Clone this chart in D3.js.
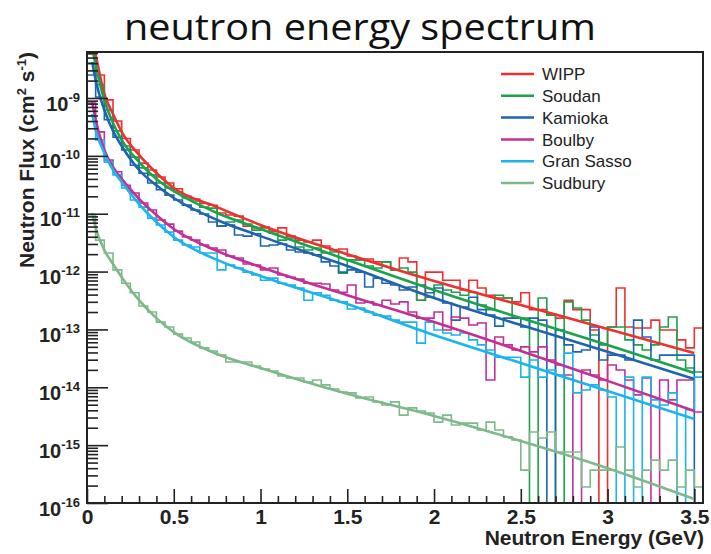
<!DOCTYPE html>
<html>
<head>
<meta charset="utf-8">
<script src="https://cdn.jsdelivr.net/npm/d3@7"></script>
<style>
  body { margin: 0; background: #fff; }
  svg { display: block; }
</style>
</head>
<body>
<script>
// sites, in legend order
const sites = ["WIPP", "Soudan", "Kamioka", "Boulby", "Gran Sasso", "Sudbury"];
const colors = ["#ef3030", "#1aa34a", "#1f64b0", "#c42f96", "#1db3ec", "#7db98a"];

// histogram: 71 bins of 0.05 GeV from 0 to 3.55 GeV (flux, cm^-2 s^-1), 0 = empty bin
const binWidth = 0.05;
const wippHist = [5.8e-9, 2.5e-9, 9.3e-10, 4.0e-10, 2.0e-10, 1.26e-10, 7.5e-11, 5.7e-11, 4.3e-11, 3.4e-11,
  2.7e-11, 2.0e-11, 1.8e-11, 1.5e-11, 1.4e-11, 1.03e-11, 9.5e-12, 9.1e-12, 6.1e-12, 5.7e-12,
  5.9e-12, 5.0e-12, 5.7e-12, 4.1e-12, 3.5e-12, 3.25e-12, 3.5e-12, 2.77e-12, 2.36e-12, 2.46e-12,
  1.86e-12, 1.59e-12, 1.65e-12, 1.47e-12, 1.47e-12, 1.07e-12, 1.72e-12, 1.47e-12, 3.2e-13, 9.8e-13,
  9.8e-13, 7.1e-13, 7.1e-13, 4.8e-13, 7.1e-13, 5.2e-13, 3.9e-13, 3.5e-13, 3.5e-13, 3.0e-13,
  4.3e-13, 2.2e-13, 2.2e-13, 1.85e-13, 1.57e-13, 3.2e-13, 2.2e-13, 2.2e-13, 9.8e-14, 0,
  1.1e-13, 5.2e-13, 1.1e-13, 1.06e-13, 1.06e-13, 1.45e-13, 9.8e-14, 9.8e-14, 6.6e-14, 4.8e-14,
  1.06e-13];
const soudanHist = [4.0e-9, 1.7e-9, 6.2e-10, 2.7e-10, 1.48e-10, 9.5e-11, 6.2e-11, 4.7e-11, 3.4e-11, 2.8e-11,
  2.37e-11, 1.87e-11, 1.66e-11, 1.3e-11, 1.25e-11, 6.1e-12, 7.2e-12, 7.8e-12, 6.6e-12, 5.2e-12,
  5.7e-12, 4.6e-12, 3.5e-12, 3.8e-12, 2.66e-12, 2.36e-12, 2.56e-12, 2.1e-12, 2.18e-12, 9.4e-13,
  1.59e-12, 1.59e-12, 1.25e-12, 1.15e-12, 1.47e-12, 1.07e-12, 1.15e-12, 9.8e-13, 3.2e-13, 3.6e-13,
  5.85e-13, 4.8e-13, 4.4e-13, 3.9e-13, 4.4e-13, 2.64e-13, 2.2e-13, 3.9e-13, 3.5e-13, 1.57e-13,
  1.57e-13, 0, 3.5e-13, 1.77e-13, 0, 3.0e-13, 2.34e-13, 1.45e-13, 8.0e-14, 5.4e-14,
  1.1e-13, 1.1e-13, 6.6e-14, 5.4e-14, 4.4e-14, 5.4e-14, 1.1e-13, 1.64e-13, 2.96e-14, 2.15e-14,
  1.84e-14];
const kamiokaHist = [2.5e-9, 1.04e-9, 4.2e-10, 2.1e-10, 1.26e-10, 6.9e-11, 5.0e-11, 3.4e-11, 2.6e-11, 2.1e-11,
  1.73e-11, 1.41e-11, 1.16e-11, 9.9e-12, 7.2e-12, 6.1e-12, 6.4e-12, 4.3e-12, 4.1e-12, 4.5e-12,
  2.77e-12, 2.88e-12, 3.0e-12, 2.36e-12, 2.18e-12, 2.1e-12, 1.94e-12, 1.47e-12, 1.25e-12, 9.8e-13,
  1.07e-12, 9.8e-13, 5.4e-13, 7.7e-13, 6.3e-13, 5.85e-13, 4.8e-13, 5.4e-13, 5.85e-13, 4.3e-13,
  5.2e-13, 2.86e-13, 1.45e-13, 2.44e-13, 3.6e-13, 2.2e-13, 1.77e-13, 1.14e-13, 1.57e-13, 1.57e-13,
  1.1e-13, 1.57e-13, 1.45e-13, 0, 9.8e-14, 5.4e-14, 4.1e-14, 4.4e-14, 1.1e-13, 2.96e-14,
  3.6e-14, 3.6e-14, 2.96e-14, 1.45e-13, 7.4e-14, 2.96e-14, 3.6e-14, 3.6e-14, 3.6e-14, 3.6e-14,
  0];
const boulbyHist = [8.2e-10, 2.6e-10, 8.5e-11, 5.3e-11, 3.1e-11, 2.28e-11, 1.53e-11, 1.16e-11, 7.8e-12, 6.6e-12,
  5.0e-12, 3.96e-12, 3.5e-12, 2.88e-12, 2.56e-12, 2.36e-12, 1.86e-12, 1.72e-12, 1.35e-12, 1.3e-12,
  1.07e-12, 1.15e-12, 8.7e-13, 8.0e-13, 7.4e-13, 6.3e-13, 6.3e-13, 6.1e-13, 4.8e-13, 4.4e-13,
  5.85e-13, 2.86e-13, 3.0e-13, 2.64e-13, 3.2e-13, 2.75e-13, 3.0e-13, 2.0e-13, 1.57e-13, 1.57e-13,
  2.0e-13, 9.8e-14, 1.64e-13, 1.57e-13, 1.19e-13, 1.29e-13, 1.34e-14, 7.4e-14, 5.4e-14, 4.4e-14,
  5.0e-14, 4.1e-14, 5.0e-14, 2.96e-14, 2.43e-14, 1.63e-14, 0, 1.99e-14, 1.63e-14, 1.34e-14,
  2.43e-14, 1.99e-14, 1.34e-14, 7.4e-15, 1.45e-14, 0, 1.34e-14, 6.05e-15, 1.34e-14, 1.34e-14,
  3.75e-15];
const gransassoHist = [4.9e-10, 1.88e-10, 7.8e-11, 4.7e-11, 2.78e-11, 1.73e-11, 1.3e-11, 8.4e-12, 6.4e-12, 4.8e-12,
  3.5e-12, 2.88e-12, 2.66e-12, 2.1e-12, 2.1e-12, 1.07e-12, 1.3e-12, 1.15e-12, 9.8e-13, 8.7e-13,
  7.1e-13, 7.7e-13, 6.3e-13, 5.85e-13, 5.2e-13, 3.2e-13, 4.3e-13, 3.9e-13, 3.2e-13, 3.0e-13,
  2.25e-13, 2.34e-13, 2.0e-13, 1.77e-13, 1.7e-13, 1.45e-13, 1.34e-13, 1.34e-13, 5.8e-14, 1.34e-13,
  9.8e-14, 8.7e-14, 8.0e-14, 8.7e-14, 6.6e-14, 5.4e-14, 4.4e-14, 3.3e-14, 3.3e-14, 3.3e-14,
  1.5e-14, 2.96e-14, 1.5e-14, 1.99e-14, 1.63e-14, 3.9e-14, 8.0e-15, 9.0e-15, 1.1e-14, 9.0e-15,
  6.8e-15, 0, 1.5e-14, 0, 1.5e-14, 6.05e-15, 4.95e-15, 8.0e-15, 0, 4.1e-15,
  1.5e-14];
const sudburyHist = [9.5e-12, 3.5e-12, 2.1e-12, 1.07e-12, 6.3e-13, 4.3e-13, 2.54e-13, 2.0e-13, 1.34e-13, 1.1e-13,
  8.3e-14, 7.1e-14, 6.05e-14, 4.8e-14, 4.24e-14, 3.6e-14, 2.74e-14, 2.74e-14, 2.74e-14, 2.33e-14,
  2.07e-14, 1.91e-14, 1.57e-14, 1.45e-14, 1.45e-14, 1.23e-14, 1.34e-14, 1.1e-14, 9.35e-15, 8.3e-15,
  8.0e-15, 6.55e-15, 6.8e-15, 5.6e-15, 4.95e-15, 5.6e-15, 3.3e-15, 4.4e-15, 3.9e-15, 3.6e-15,
  2.5e-15, 3.3e-15, 2.23e-15, 2.4e-15, 2.4e-15, 1.83e-15, 2.5e-15, 1.83e-15, 1.39e-15, 1.23e-15,
  3.7e-16, 1.69e-15, 1.33e-15, 1.69e-15, 7.6e-16, 7.6e-16, 7.6e-16, 1.89e-16, 3.7e-16, 3.7e-16,
  3.7e-16, 9.3e-16, 3.7e-16, 1.89e-16, 3.7e-16, 5.5e-16, 3.7e-16, 5.5e-16, 1.89e-16, 3.7e-16,
  1.89e-16];

// fitted curves, sampled at these energies (GeV)
const fitX = [0.03, 0.05, 0.1, 0.15, 0.2, 0.3, 0.4, 0.5, 0.75, 1.0, 1.5, 2.0, 2.5, 3.0, 3.5];
const wippFit = [1.0e-8, 5.5e-9, 1.17e-9, 5.3e-10, 2.6e-10, 1.04e-10, 5.05e-11, 2.78e-11, 1.3e-11, 6.4e-12, 2.0e-12, 6.9e-13, 2.64e-13, 1.02e-13, 3.9e-14];
const soudanFit = [7.3e-9, 3.7e-9, 9.2e-10, 3.7e-10, 1.88e-10, 7.8e-11, 4.0e-11, 2.47e-11, 1.03e-11, 5.45e-12, 1.59e-12, 4.8e-13, 1.57e-13, 5.4e-14, 1.77e-14];
const kamiokaFit = [4.2e-9, 2.05e-9, 6.2e-10, 2.7e-10, 1.48e-10, 5.7e-11, 3.1e-11, 1.87e-11, 7.8e-12, 4.1e-12, 1.25e-12, 3.5e-13, 1.19e-13, 4.1e-14, 1.39e-14];
const boulbyFit = [8.5e-10, 4.2e-10, 1.26e-10, 6.4e-11, 4.0e-11, 1.8e-11, 9.5e-12, 5.45e-12, 2.27e-12, 1.2e-12, 3.9e-13, 1.34e-13, 4.24e-14, 1.29e-14, 3.9e-15];
const gransassoFit = [5.3e-10, 2.8e-10, 1.12e-10, 5.7e-11, 3.53e-11, 1.47e-11, 7.2e-12, 3.96e-12, 1.59e-12, 8.4e-13, 2.75e-13, 8.0e-14, 2.63e-14, 8.6e-15, 2.84e-15];
const sudburyFit = [1.03e-11, 5.7e-12, 2.36e-12, 1.35e-12, 8.0e-13, 3.2e-13, 1.57e-13, 9.0e-14, 3.76e-14, 2.15e-14, 7.7e-15, 3.2e-15, 1.18e-15, 4.0e-16, 1.17e-16];

// axis ticks
const xTicks = [0, 0.5, 1, 1.5, 2, 2.5, 3, 3.5];
const yDecades = [1e-16, 1e-15, 1e-14, 1e-13, 1e-12, 1e-11, 1e-10, 1e-9, 1e-8];

const hists = [wippHist, soudanHist, kamiokaHist, boulbyHist, gransassoHist, sudburyHist];
const fits = [wippFit, soudanFit, kamiokaFit, boulbyFit, gransassoFit, sudburyFit];

const W = 711, H = 554;
const margin = { top: 52, right: 8, bottom: 51, left: 87 };
const width = W - margin.left - margin.right,
  height = H - margin.top - margin.bottom;
const axisFont = "'Liberation Sans', Arial, Helvetica, sans-serif";

const svg = d3.select("body").append("svg")
  .attr("width", W)
  .attr("height", H);

svg.append("text")
  .attr("x", 360)
  .attr("y", 40)
  .attr("text-anchor", "middle")
  .attr("font-family", "'Open Sans', sans-serif")
  .attr("font-size", 36)
  .attr("textLength", 472)
  .attr("lengthAdjust", "spacingAndGlyphs")
  .attr("fill", "#111")
  .text("neutron energy spectrum");

const g = svg.append("g")
  .attr("transform", "translate(" + margin.left + "," + margin.top + ")");

const x = d3.scaleLinear().domain([0, 3.55]).range([0, width]);
const y = d3.scaleLog().domain([1e-16, 6.24e-9]).range([height, 0]);

g.append("clipPath").attr("id", "plot")
  .append("rect").attr("width", width).attr("height", height);

const plot = g.append("g").attr("clip-path", "url(#plot)");

// histograms as step contours, empty bins drop to the bottom
const step = d3.line()
  .x(d => x(d[0]))
  .y(d => d[1] > 0 ? y(d[1]) : height + 2)
  .curve(d3.curveStepAfter);

hists.forEach((h, k) => {
  const pts = h.map((v, i) => [i * binWidth, v]);
  pts.push([h.length * binWidth, h[h.length - 1]]);
  plot.append("path")
    .attr("d", step(pts))
    .attr("fill", "none")
    .attr("stroke", colors[k])
    .attr("stroke-width", 1.6);
});

const fitLine = d3.line()
  .x((d, i) => x(fitX[i]))
  .y(d => y(d))
  .curve(d3.curveMonotoneX);

fits.forEach((f, k) => {
  plot.append("path")
    .attr("d", fitLine(f))
    .attr("fill", "none")
    .attr("stroke", colors[k])
    .attr("stroke-width", 2.6);
});

// axes (ROOT style, ticks inside)
const xMinor = d3.range(0, 3.55, 0.1).filter(v => Math.abs(v * 2 - Math.round(v * 2)) > 1e-6);
const yMinor = [];
yDecades.slice(0, -1).forEach(d => { for (let m = 2; m <= 9; m++) yMinor.push(d * m); });

const gx = g.append("g")
  .attr("transform", "translate(0," + height + ")")
  .attr("color", "#222");
gx.append("g").call(d3.axisBottom(x).tickValues(xMinor).tickSize(-7).tickFormat(() => ""));
gx.append("g").call(d3.axisBottom(x).tickValues(xTicks).tickSize(-14).tickPadding(6).tickFormat(d3.format("")));
gx.selectAll(".domain").remove();
gx.selectAll("line").attr("stroke-width", 1.6);
gx.selectAll("text")
  .attr("font-family", axisFont)
  .attr("font-size", 21)
  .attr("font-weight", "bold")
  .attr("fill", "#222");

const gy = g.append("g").attr("color", "#222");
gy.append("g").call(d3.axisLeft(y).tickValues(yMinor.filter(v => v < 6.24e-9)).tickSize(-11).tickFormat(() => ""));
const gyMajor = gy.append("g").call(d3.axisLeft(y).tickValues(yDecades.slice(0, -1)).tickSize(-21).tickPadding(7).tickFormat(() => ""));
gy.selectAll(".domain").remove();
gy.selectAll("line").attr("stroke-width", 1.6);
gyMajor.selectAll(".tick text")
  .attr("dy", "0.6em")
  .attr("font-family", axisFont)
  .attr("font-size", 20)
  .attr("font-weight", "bold")
  .attr("fill", "#222")
  .each(function (d) {
    const t = d3.select(this);
    t.append("tspan").text("10");
    t.append("tspan").attr("dy", -9).attr("font-size", 13).text(Math.round(Math.log10(d)));
  });

g.append("rect")
  .attr("width", width)
  .attr("height", height)
  .attr("fill", "none")
  .attr("stroke", "#222")
  .attr("stroke-width", 2);

// axis titles
svg.append("text")
  .attr("x", 704)
  .attr("y", 545)
  .attr("text-anchor", "end")
  .attr("font-family", axisFont)
  .attr("font-size", 21)
  .attr("font-weight", "bold")
  .attr("fill", "#222")
  .text("Neutron Energy (GeV)");

const yt = svg.append("text")
  .attr("transform", "translate(34,160) rotate(-90)")
  .attr("text-anchor", "middle")
  .attr("font-family", axisFont)
  .attr("font-size", 21)
  .attr("font-weight", "bold")
  .attr("fill", "#222");
yt.append("tspan").text("Neutron Flux (cm");
yt.append("tspan").attr("dy", -8).attr("font-size", 13).text("2");
yt.append("tspan").attr("dy", 8).text(" s");
yt.append("tspan").attr("dy", -8).attr("font-size", 13).text("-1");
yt.append("tspan").attr("dy", 8).text(")");

// legend
const legend = svg.append("g").attr("transform", "translate(501,74)");
sites.forEach((s, k) => {
  const row = legend.append("g").attr("transform", "translate(0," + k * 21.8 + ")");
  row.append("line")
    .attr("x1", 0).attr("x2", 33)
    .attr("stroke", colors[k])
    .attr("stroke-width", 2.5);
  row.append("text")
    .attr("x", 41)
    .attr("dy", "0.36em")
    .attr("font-family", axisFont)
    .attr("font-size", 17)
    .attr("fill", "#222")
    .text(s);
});
</script>
</body>
</html>
